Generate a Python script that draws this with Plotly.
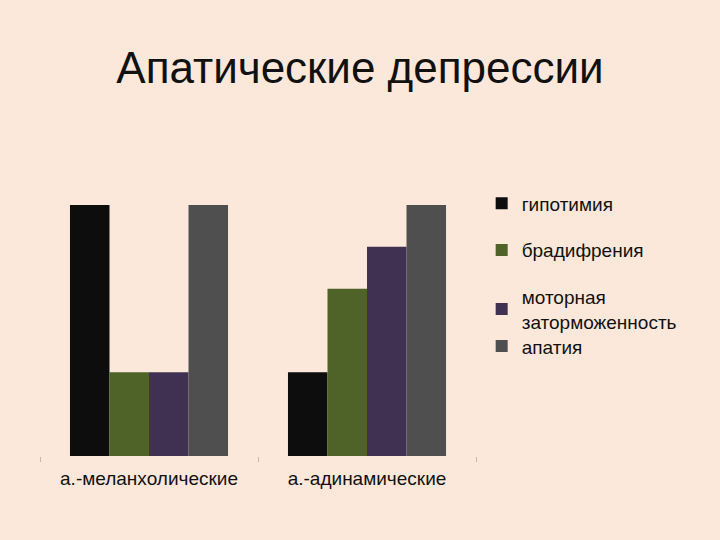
import plotly.graph_objects as go

categories = ["а.-меланхолические", "а.-адинамические"]
series_names = ["гипотимия", "брадифрения", "моторная<br>заторможенность", "апатия"]
hypothymia = [3, 1]
bradyphrenia = [1, 2]
motor = [1, 2.5]
apathy = [3, 3]
colors = ["#0d0d0d", "#4f6228", "#403152", "#4f4f4f"]

values = [hypothymia, bradyphrenia, motor, apathy]
bg = "#fce8da"
font_family = "Arial, 'Liberation Sans', sans-serif"
legends = ["legend", "legend", "legend", "legend2"]

fig = go.Figure()
for name, vals, col, lg in zip(series_names, values, colors, legends):
    fig.add_trace(go.Bar(x=categories, y=vals, name=name, marker_color=col,
                         marker_line_width=0, legendgroup=name, legend=lg))

leg_common = dict(bgcolor="rgba(0,0,0,0)", tracegroupgap=19, itemwidth=30,
                  font=dict(family=font_family, size=19, color="#111111"))

fig.update_layout(
    width=720, height=540,
    paper_bgcolor=bg, plot_bgcolor=bg,
    barmode="group", bargap=0.275, bargroupgap=0,
    margin=dict(l=40, r=244, t=205, b=84),
    title=dict(text="Апатические депрессии", x=0.5, xanchor="center",
               y=1 - 68 / 540, yanchor="middle",
               font=dict(family=font_family, size=44, color="#111111")),
    font=dict(family=font_family, size=19, color="#111111"),
    showlegend=True,
    legend=dict(x=1.013, xanchor="left", y=1.082, yanchor="top", **leg_common),
    legend2=dict(x=1.013, xanchor="left", y=0.513, yanchor="top", **leg_common),
    xaxis=dict(showgrid=False, showline=False, ticks="outside", tickson="boundaries",
               ticklen=5, tickcolor="#bbbbbb", ticklabelstandoff=9,
               tickfont=dict(size=19, color="#111111")),
    yaxis=dict(range=[0, 3], showgrid=False, showline=False, showticklabels=False,
               zeroline=False, ticks=""),
)

fig.write_html("out.html", config={"displayModeBar": False},
               post_script="document.body.style.margin='0';document.body.style.background='#fce8da';")
